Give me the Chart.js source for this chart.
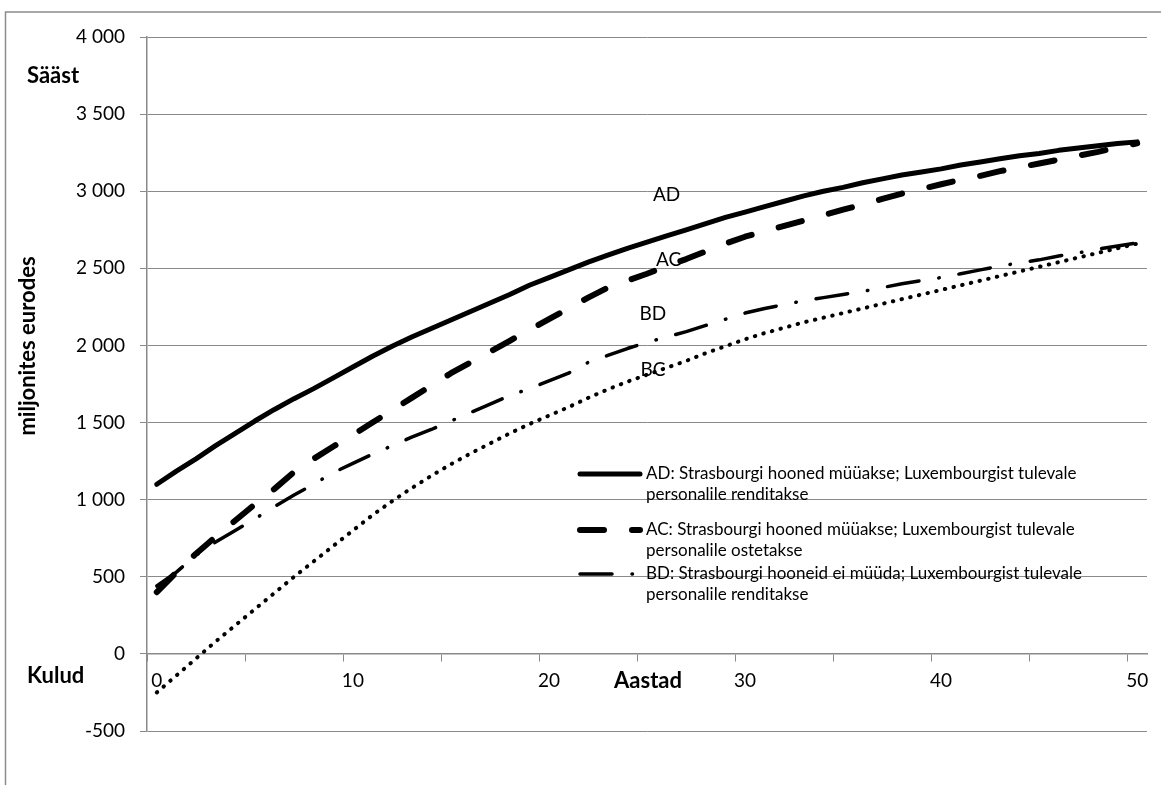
<!DOCTYPE html>
<html>
<head>
<meta charset="utf-8">
<script src="https://cdn.jsdelivr.net/npm/chart.js@4.4.1/dist/chart.umd.min.js"></script>
<style>
  body { margin: 0; background: #fff; }
  #wrap { width: 1161px; height: 785px; }
</style>
</head>
<body>
<div id="wrap"><canvas id="chart" width="1161" height="785"></canvas></div>
<script>
// Years after decision (category axis)
const years = [0,1,2,3,4,5,6,7,8,9,10,11,12,13,14,15,16,17,18,19,20,21,22,23,24,25,
  26,27,28,29,30,31,32,33,34,35,36,37,38,39,40,41,42,43,44,45,46,47,48,49,50];

// Cumulative saving, million euro
const seriesAD = [1100,1185,1265,1350,1430,1510,1585,1655,1720,1790,1860,1930,1995,2055,2110,2165,2220,2275,2330,2390,
  2440,2490,2540,2585,2630,2670,2710,2750,2790,2830,2865,2900,2935,2970,3000,3025,3055,3080,3105,3125,
  3145,3170,3190,3210,3230,3245,3265,3280,3295,3310,3320];
const seriesAC = [400,530,650,760,865,970,1070,1180,1265,1345,1420,1500,1580,1660,1740,1820,1890,1960,2030,2100,
  2170,2240,2310,2375,2420,2465,2515,2560,2610,2660,2705,2740,2775,2810,2845,2880,2915,2950,2985,3015,
  3045,3075,3100,3130,3155,3180,3205,3230,3255,3285,3310];
const seriesBD = [440,530,640,725,800,875,955,1030,1100,1175,1235,1295,1350,1405,1455,1510,1565,1620,1675,1720,
  1770,1820,1890,1935,1980,2020,2055,2090,2130,2170,2210,2240,2265,2290,2310,2330,2350,2375,2400,2420,
  2440,2465,2490,2515,2535,2555,2580,2600,2625,2645,2665];
const seriesBC = [-250,-140,-30,80,185,290,395,500,600,700,800,900,990,1075,1155,1230,1300,1365,1430,1490,
  1545,1600,1660,1715,1765,1810,1855,1900,1950,1995,2040,2080,2115,2150,2180,2210,2240,2270,2300,2330,
  2360,2390,2420,2450,2480,2510,2540,2570,2600,2630,2660];

const seriesNames = ['AD', 'AC', 'BD', 'BC'];
const legendTexts = [
  ['AD: Strasbourgi hooned müüakse; Luxembourgist tulevale', 'personalile renditakse'],
  ['AC: Strasbourgi hooned müüakse; Luxembourgist tulevale', 'personalile ostetakse'],
  ['BD: Strasbourgi hooneid ei müüda; Luxembourgist tulevale', 'personalile renditakse']
];

const yMin = -500, yMax = 4000, yStep = 500;

const FONT = 'Lato, "Liberation Sans", sans-serif';
const GRID = '#8a8a8a';

// line styles
const styles = {
  AD: { width: 5, dash: [] },
  AC: { width: 6, dash: [24, 28] },
  BD: { width: 3.5, dash: [32, 20, 0.5, 20] },
  BC: { width: 4, dash: [0.5, 8.4] }
};

function fmt(v) {
  return String(v).replace(/\B(?=(\d{3})+(?!\d))/g, ' ');
}

// series tags placed on the plot in data units
const tagPos = [
  { text: 'AD', year: 26, value: 2975 },
  { text: 'AC', year: 26.1, value: 2555 },
  { text: 'BD', year: 25.3, value: 2205 },
  { text: 'BC', year: 25.3, value: 1840 }
];

const extras = {
  id: 'extras',
  beforeDraw(chart) {
    const ctx = chart.ctx;
    ctx.save();
    ctx.fillStyle = '#fff';
    ctx.fillRect(0, 0, chart.width, chart.height);
    ctx.strokeStyle = '#8c8c8c';
    ctx.lineWidth = 1.5;
    ctx.beginPath();
    ctx.moveTo(5.5, 785);
    ctx.lineTo(5.5, 12);
    ctx.lineTo(1161, 12);
    ctx.stroke();
    ctx.restore();
  },
  afterDraw(chart) {
    const ctx = chart.ctx;
    const xs = chart.scales.x, ys = chart.scales.y;
    ctx.save();
    ctx.fillStyle = '#000';
    ctx.textBaseline = 'middle';

    // bold side notes
    ctx.font = 'bold 22px ' + FONT;
    ctx.textAlign = 'left';
    ctx.fillText('Sääst', 27, 76);
    ctx.fillText('Kulud', 27, 676);
    ctx.textAlign = 'center';
    ctx.fillText('Aastad', 648, 681);

    // y title
    ctx.save();
    ctx.translate(28, 346);
    ctx.rotate(-Math.PI / 2);
    ctx.font = 'bold 22px ' + FONT;
    ctx.fillText('miljonites eurodes', 0, 0);
    ctx.restore();

    // series tags
    ctx.font = '19px ' + FONT;
    tagPos.forEach(t => {
      ctx.fillText(t.text, xs.getPixelForValue(t.year), ys.getPixelForValue(t.value));
    });

    // legend
    ctx.font = '17px ' + FONT;
    ctx.textAlign = 'left';
    const rows = [474, 530, 574];
    legendTexts.forEach((lines, i) => {
      const st = styles[seriesNames[i]];
      const yy = rows[i];
      ctx.save();
      ctx.strokeStyle = '#000';
      ctx.lineWidth = st.width;
      ctx.lineCap = 'round';
      ctx.setLineDash(st.dash);
      ctx.beginPath();
      ctx.moveTo(580, yy);
      ctx.lineTo(640, yy);
      ctx.stroke();
      ctx.restore();
      ctx.fillText(lines[0], 646, yy);
      ctx.fillText(lines[1], 646, yy + 21);
    });
    ctx.restore();
  }
};

function makeSet(name, data) {
  const st = styles[name];
  return {
    label: name,
    data: data,
    borderColor: '#000',
    backgroundColor: '#000',
    borderWidth: st.width,
    borderDash: st.dash,
    borderCapStyle: 'round',
    borderJoinStyle: 'round',
    pointRadius: 0,
    tension: 0,
    fill: false
  };
}

new Chart(document.getElementById('chart'), {
  type: 'line',
  data: {
    labels: years,
    datasets: [
      makeSet('AD', seriesAD),
      makeSet('AC', seriesAC),
      makeSet('BD', seriesBD),
      makeSet('BC', seriesBC)
    ]
  },
  options: {
    responsive: false,
    animation: false,
    layout: { padding: { left: 0, right: 14, top: 37, bottom: 54 } },
    plugins: {
      legend: { display: false },
      tooltip: { enabled: false }
    },
    scales: {
      x: {
        type: 'category',
        offset: true,
        position: { y: 0 },
        grid: {
          offset: true,
          drawOnChartArea: false,
          drawTicks: true,
          tickLength: 7,
          tickColor: ctx => (ctx.index % 5 === 0 ? GRID : 'rgba(0,0,0,0)')
        },
        border: { color: GRID, width: 1.5 },
        ticks: {
          autoSkip: false,
          maxRotation: 0,
          padding: 9,
          color: '#000',
          font: { family: FONT, size: 19 },
          callback: (v, i) => (years[i] % 10 === 0 ? String(years[i]) : '')
        }
      },
      y: {
        min: yMin,
        max: yMax,
        afterFit: s => { s.width = 147; },
        grid: { color: GRID, tickLength: 7, tickColor: GRID },
        border: { color: GRID, width: 1.5 },
        ticks: {
          stepSize: yStep,
          padding: 15,
          color: '#000',
          font: { family: FONT, size: 19 },
          callback: v => fmt(v)
        }
      }
    }
  },
  plugins: [extras]
});
</script>
</body>
</html>
